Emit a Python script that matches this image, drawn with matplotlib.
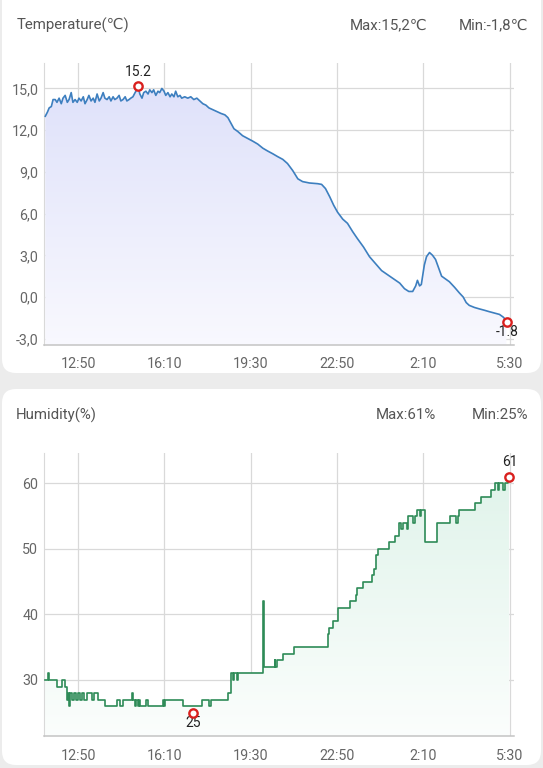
import numpy as np
import matplotlib
matplotlib.use("Agg")
import matplotlib.pyplot as plt
from matplotlib.patches import FancyBboxPatch

#Two app-style cards: temperature and humidity over one night

plt.rcParams['font.family'] = ['Roboto', 'DejaVu Sans']

tick_times = ["12:50", "16:10", "19:30", "22:50", "2:10", "5:30"]

temp_times = ["11:34", "11:39", "11:43", "11:48", "11:52", "11:57", "12:01", "12:06",
              "12:11", "12:15", "12:20", "12:25", "12:29", "12:34", "12:38", "12:43",
              "12:48", "12:52", "12:57", "13:02", "13:06", "13:11", "13:15", "13:20",
              "13:25", "13:29", "13:34", "13:39", "13:43", "13:48", "13:52", "13:57",
              "14:02", "14:06", "14:11", "14:15", "14:20", "14:25", "14:29", "14:34",
              "14:39", "14:43", "14:48", "14:52", "14:57", "15:02", "15:06", "15:09",
              "15:13", "15:18", "15:22", "15:27", "15:32", "15:36", "15:41", "15:45",
              "15:50", "15:55", "15:59", "16:04", "16:09", "16:13", "16:18", "16:23",
              "16:27", "16:32", "16:36", "16:41", "16:46", "16:50", "16:57", "17:04",
              "17:11", "17:18", "17:25", "17:32", "17:39", "17:46", "17:53", "18:00",
              "18:07", "18:14", "18:21", "18:30", "18:37", "18:44", "18:51", "19:00",
              "19:11", "19:23", "19:35", "19:46", "19:58", "20:09", "20:21", "20:32",
              "20:44", "20:55", "21:07", "21:19", "21:30", "21:46", "22:05", "22:14",
              "22:23", "22:33", "22:42", "22:51", "23:03", "23:14", "23:26", "23:37",
              "23:51", "0:05", "0:19", "0:33", "0:47", "1:01", "1:15", "1:26",
              "1:36", "1:45", "1:52", "1:56", "2:01", "2:05", "2:12", "2:17",
              "2:24", "2:31", "2:38", "2:45", "2:52", "3:01", "3:10", "3:22",
              "3:33", "3:42", "3:49", "3:56", "4:08", "4:19", "4:31", "4:42",
              "4:54", "5:06", "5:15", "5:22"]
temp_values = [13.0, 13.3, 13.6, 13.7, 14.2, 14.2, 14.0, 14.3,
               13.9, 14.3, 14.5, 14.0, 14.2, 14.7, 14.0, 14.2,
               14.0, 14.3, 14.1, 14.4, 13.9, 14.2, 14.5, 14.1,
               14.3, 14.0, 14.6, 14.1, 14.3, 14.7, 14.3, 14.2,
               14.4, 14.1, 14.4, 14.2, 14.3, 14.5, 14.1, 14.2,
               14.4, 14.1, 14.2, 14.3, 14.4, 14.7, 14.9, 15.1,
               14.6, 14.3, 14.7, 14.8, 14.6, 14.9, 14.7, 14.9,
               14.5, 14.8, 14.7, 15.0, 14.8, 14.5, 14.7, 14.4,
               14.6, 14.4, 14.8, 14.4, 14.5, 14.3, 14.4, 14.3,
               14.4, 14.2, 14.3, 14.1, 13.9, 13.8, 13.6, 13.5,
               13.4, 13.3, 13.2, 13.1, 12.9, 12.5, 12.1, 11.9,
               11.6, 11.4, 11.2, 11.0, 10.7, 10.5, 10.3, 10.1,
               9.9, 9.6, 9.1, 8.5, 8.3, 8.2, 8.15, 8.1,
               7.8, 7.2, 6.6, 6.1, 5.6, 5.3, 4.7, 4.2,
               3.6, 2.9, 2.4, 1.9, 1.6, 1.3, 1.0, 0.6,
               0.4, 0.4, 0.8, 1.2, 0.8, 0.9, 2.3, 2.9,
               3.2, 3.0, 2.7, 2.1, 1.5, 1.3, 1.1, 0.7,
               0.3, 0.0, -0.4, -0.6, -0.75, -0.85, -0.95, -1.05,
               -1.15, -1.25, -1.45, -1.7]
temp_max = ("15:09", 15.2)
temp_min = ("5:23", -1.8)

hum_times = ["11:34", "11:41", "11:43", "12:01", "12:13", "12:20", "12:25", "12:27",
             "12:29", "12:31", "12:36", "12:41", "12:45", "12:50", "12:55", "12:59",
             "13:04", "13:11", "13:22", "13:27", "13:36", "13:48", "13:52", "14:20",
             "14:27", "14:34", "14:54", "14:57", "15:02", "15:04", "15:08", "15:10",
             "15:13", "15:28", "15:32", "16:07", "16:09", "16:11", "16:53", "17:36",
             "17:53", "17:58", "18:37", "18:45", "18:48", "18:52", "18:58", "19:01",
             "19:58", "20:01", "20:26", "20:27", "20:30", "20:44", "21:09", "22:28",
             "22:31", "22:41", "22:51", "23:20", "23:33", "23:37", "23:50", "0:10",
             "0:16", "0:19", "0:25", "0:51", "1:05", "1:14", "1:19", "1:23",
             "1:31", "1:35", "1:46", "1:50", "1:55", "2:01", "2:05", "2:13",
             "2:42", "3:11", "3:26", "3:30", "3:32", "4:10", "4:24", "4:46",
             "4:56", "5:03", "5:06", "5:14", "5:18", "5:26", "5:29"]
hum_values = [30, 31, 30, 29, 30, 29, 27, 28,
              26, 28, 27, 28, 27, 28, 27, 28,
              27, 28, 27, 28, 27, 27, 26, 27,
              26, 27, 28, 27, 26, 27, 26, 27,
              26, 27, 26, 27, 26, 27, 26, 27,
              26, 27, 28, 31, 30, 31, 30, 31,
              42, 32, 33, 32, 33, 34, 35, 37,
              38, 39, 41, 42, 43, 44, 45, 46,
              47, 49, 50, 51, 52, 54, 53, 54,
              53, 55, 54, 55, 56, 55, 56, 51,
              54, 55, 54, 55, 56, 57, 58, 59,
              60, 59, 60, 59, 60, 61, 61]
hum_max = ("5:29", 61)
hum_min = ("17:17", 25)


def to_hours(s):
    h, m = s.split(":")
    h = int(h) + int(m) / 60.0
    if h < 11:
        h += 24
    return h


def gradient_fill(ax, x, y, y0, top, bottom, step=None):
    poly = ax.fill_between(x, y, y0, step=step, facecolor='none', edgecolor='none')
    g = np.linspace(0, 1, 256)[:, None, None]
    img = np.array(top)[None, None, :] * (1 - g) + np.array(bottom)[None, None, :] * g
    im = ax.imshow(img, extent=[x.min(), x.max(), y0, y.max()], aspect='auto',
                   origin='upper', zorder=1)
    im.set_clip_path(poly.get_paths()[0], transform=ax.transData)


def style_axes(ax, ylim, yticks, ylabels):
    ax.set_xlim(to_hours("11:31"), to_hours("5:39"))
    ax.set_ylim(*ylim)
    ax.set_xticks([to_hours(t) for t in tick_times])
    ax.set_xticklabels(tick_times)
    ax.set_yticks(yticks)
    ax.set_yticklabels(ylabels)
    ax.grid(True, color='#d9d9d9', linewidth=0.9)
    ax.set_axisbelow(True)
    ax.tick_params(length=0, colors='#666666', labelsize=10.3)
    ax.tick_params(axis='x', pad=9)
    ax.tick_params(axis='y', pad=4)
    for s in ['top', 'right']:
        ax.spines[s].set_visible(False)
    ax.spines['left'].set_color('#d9d9d9')
    ax.spines['bottom'].set_color('#c4c4c4')
    ax.spines['bottom'].set_linewidth(1.1)
    ax.patch.set_alpha(0)


fig = plt.figure(figsize=(5.43, 7.68), dpi=100)
fig.patch.set_facecolor('#ececec')

#background cards, pixel coordinates
bg = fig.add_axes([0, 0, 1, 1])
bg.set_xlim(0, 543)
bg.set_ylim(768, 0)
bg.axis('off')
bg.add_patch(FancyBboxPatch((2, -20), 539, 393, boxstyle="round,pad=0,rounding_size=14",
                            facecolor='white', edgecolor='none'))
bg.add_patch(FancyBboxPatch((2, 389), 539, 376, boxstyle="round,pad=0,rounding_size=14",
                            facecolor='white', edgecolor='none'))

bg.text(17, 25, "Temperature(℃)", ha='left', va='center', fontsize=10.8, color='#555555')
bg.text(350, 25, "Max:15,2℃", ha='left', va='center', fontsize=10.8, color='#555555')
bg.text(528, 25, "Min:-1,8℃", ha='right', va='center', fontsize=10.8, color='#555555')
bg.text(16, 415, "Humidity(%)", ha='left', va='center', fontsize=10.8, color='#555555')
bg.text(376, 415, "Max:61%", ha='left', va='center', fontsize=10.8, color='#555555')
bg.text(528, 415, "Min:25%", ha='right', va='center', fontsize=10.8, color='#555555')

#temperature
ax1 = fig.add_axes([44 / 543, 1 - 345 / 768, 469.7 / 543, 282.3 / 768])
tx = np.array([to_hours(t) for t in temp_times])
ty = np.array(temp_values)
ylim1 = (-3.45, 16.85)
gradient_fill(ax1, tx, ty, ylim1[0], (0.875, 0.885, 0.98), (0.975, 0.975, 0.997))
ax1.plot(tx, ty, color='#3d7fbf', linewidth=1.2, zorder=3)
ax1.plot([to_hours(temp_max[0])], [temp_max[1]], 'o', ms=6, mfc='white', mec='#d9201e', mew=1.7, zorder=4)
ax1.plot([to_hours(temp_min[0])], [temp_min[1]], 'o', ms=6, mfc='white', mec='#d9201e', mew=1.7, zorder=4)
ax1.annotate(str(temp_max[1]), (to_hours(temp_max[0]), temp_max[1]), xytext=(0, 10),
             textcoords='offset points', ha='center', va='center', fontsize=10, color='#222222')
ax1.annotate(str(temp_min[1]), (to_hours(temp_min[0]), temp_min[1]), xytext=(0, -7.5),
             textcoords='offset points', ha='center', va='center', fontsize=10, color='#222222')
t_ticks = [-3, 0, 3, 6, 9, 12, 15]
style_axes(ax1, ylim1, t_ticks, ["%.1f" % v for v in t_ticks])
ax1.set_yticklabels([("%.1f" % v).replace(".", ",") for v in t_ticks])

#humidity
ax2 = fig.add_axes([44 / 543, 1 - 736.3 / 768, 469.7 / 543, 283 / 768])
hx = np.array([to_hours(t) for t in hum_times])
hy = np.array(hum_values, dtype=float)
ylim2 = (21.4, 64.6)
gradient_fill(ax2, hx, hy, ylim2[0], (0.88, 0.955, 0.92), (0.985, 0.995, 0.99), step='post')
ax2.step(hx, hy, where='post', color='#2e8b57', linewidth=1.2, zorder=3)
ax2.plot([to_hours(hum_max[0])], [hum_max[1]], 'o', ms=6, mfc='white', mec='#d9201e', mew=1.7, zorder=4)
ax2.plot([to_hours(hum_min[0])], [hum_min[1]], 'o', ms=6, mfc='white', mec='#d9201e', mew=1.7, zorder=4)
ax2.annotate(str(hum_max[1]), (to_hours(hum_max[0]), hum_max[1]), xytext=(0, 10.5),
             textcoords='offset points', ha='center', va='center', fontsize=10, color='#222222')
ax2.annotate(str(hum_min[1]), (to_hours(hum_min[0]), hum_min[1]), xytext=(0, -7.5),
             textcoords='offset points', ha='center', va='center', fontsize=10, color='#222222')
h_ticks = [30, 40, 50, 60]
style_axes(ax2, ylim2, h_ticks, [str(v) for v in h_ticks])

fig.savefig('out.png', dpi=100, facecolor=fig.get_facecolor())
